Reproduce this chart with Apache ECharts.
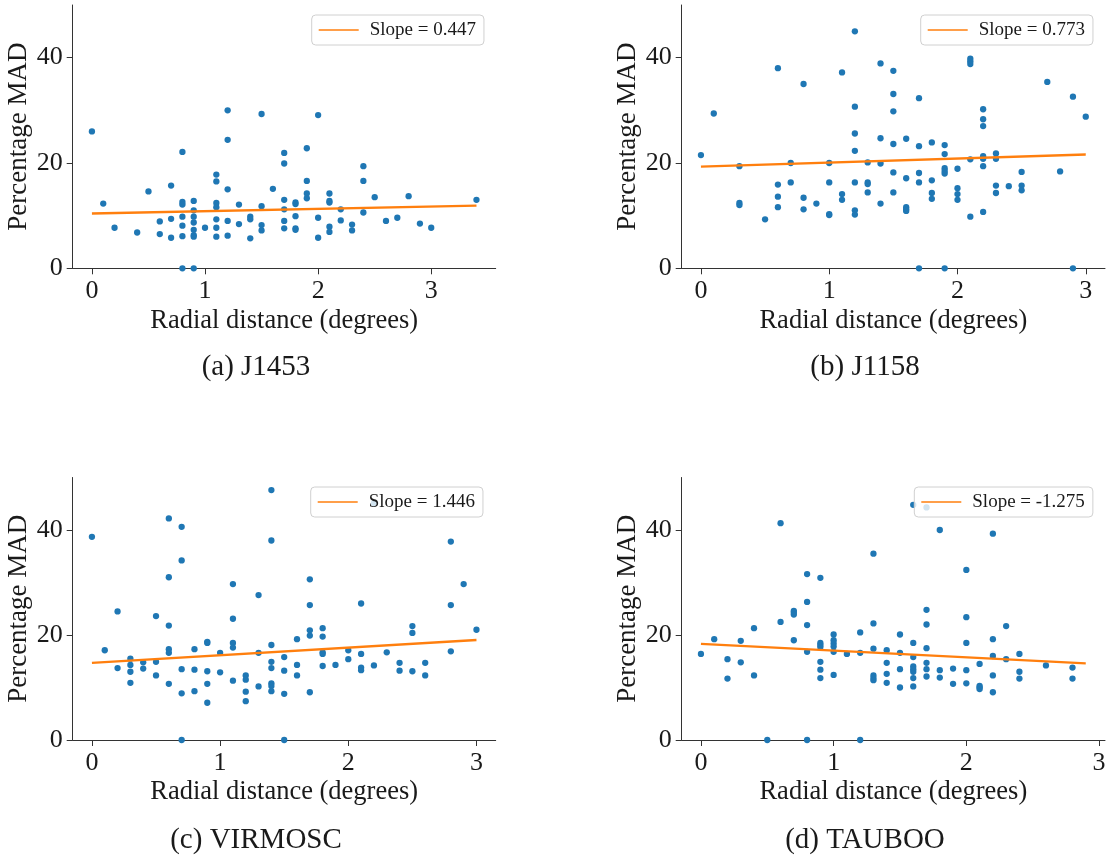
<!DOCTYPE html>
<html>
<head>
<meta charset="utf-8">
<title>Percentage MAD vs radial distance</title>
<script src="https://cdn.jsdelivr.net/npm/echarts@6.0.0/dist/echarts.min.js"></script>
<style>
  html, body { margin: 0; padding: 0; background: #ffffff; }
  #chart { width: 1112px; height: 861px; }
</style>
</head>
<body>
<div id="chart"></div>
<script>
// data, [radial distance, percentage MAD]
var pointsJ1453 = [
  [0, 26.0], [0.1, 12.3], [0.2, 7.7], [0.4, 6.8], [0.5, 14.6], [0.6, 8.9], [0.6, 6.5],
  [0.7, 15.7], [0.7, 9.4], [0.7, 5.8],
  [0.8, 22.1], [0.8, 12.6], [0.8, 12.1], [0.8, 9.8], [0.8, 8.1], [0.8, 6.1], [0.8, 0],
  [0.9, 12.8], [0.9, 11.0], [0.9, 9.8], [0.9, 8.7], [0.9, 7.3], [0.9, 6.3], [0.9, 6.0], [0.9, 0],
  [1.0, 7.7],
  [1.1, 17.8], [1.1, 16.5], [1.1, 12.4], [1.1, 11.6], [1.1, 9.3], [1.1, 7.7], [1.1, 6.0],
  [1.2, 30.0], [1.2, 24.4], [1.2, 15.0], [1.2, 9.0], [1.2, 6.2],
  [1.3, 12.1], [1.3, 8.4],
  [1.4, 9.8], [1.4, 9.3], [1.4, 5.7],
  [1.5, 29.3], [1.5, 11.8], [1.5, 8.2], [1.5, 7.2],
  [1.6, 15.1],
  [1.7, 21.9], [1.7, 19.9], [1.7, 13.0], [1.7, 11.2], [1.7, 9.0], [1.7, 7.6],
  [1.8, 12.5], [1.8, 12.2], [1.8, 9.9], [1.8, 7.6], [1.8, 7.3],
  [1.9, 22.8], [1.9, 16.6], [1.9, 14.2], [1.9, 13.3],
  [2.0, 29.1], [2.0, 9.6], [2.0, 5.8],
  [2.1, 14.2], [2.1, 12.8], [2.1, 12.5], [2.1, 7.9], [2.1, 6.9],
  [2.2, 11.2], [2.2, 9.1],
  [2.3, 8.3], [2.3, 7.2],
  [2.4, 19.4], [2.4, 16.6], [2.4, 10.6],
  [2.5, 13.5], [2.6, 9.0], [2.7, 9.6], [2.8, 13.7], [2.9, 8.5], [3.0, 7.7], [3.4, 13.0]
];
var pointsJ1158 = [
  [0, 21.5], [0.1, 29.4], [0.3, 19.4], [0.3, 12.4], [0.3, 12.0], [0.5, 9.3],
  [0.6, 38.0], [0.6, 15.9], [0.6, 13.6], [0.6, 11.6],
  [0.7, 20.0], [0.7, 16.3],
  [0.8, 35.0], [0.8, 13.4], [0.8, 11.2],
  [0.9, 12.3],
  [1.0, 20.0], [1.0, 16.3], [1.0, 10.3], [1.0, 10.1],
  [1.1, 37.2], [1.1, 14.1], [1.1, 13.0],
  [1.2, 45.0], [1.2, 30.7], [1.2, 25.6], [1.2, 22.3], [1.2, 16.3], [1.2, 11.0], [1.2, 10.2],
  [1.3, 20.1], [1.3, 16.3], [1.3, 16.0], [1.3, 14.4],
  [1.4, 38.9], [1.4, 24.7], [1.4, 19.9], [1.4, 12.3],
  [1.5, 37.5], [1.5, 33.1], [1.5, 29.8], [1.5, 23.6], [1.5, 18.2], [1.5, 14.4],
  [1.6, 24.6], [1.6, 17.1], [1.6, 11.6], [1.6, 11.2], [1.6, 10.9],
  [1.7, 32.3], [1.7, 23.2], [1.7, 18.1], [1.7, 16.3], [1.7, 0],
  [1.8, 23.9], [1.8, 16.7], [1.8, 14.3], [1.8, 13.2],
  [1.9, 23.4], [1.9, 21.7], [1.9, 19.0], [1.9, 18.5], [1.9, 18.0], [1.9, 0],
  [2.0, 18.9], [2.0, 15.2], [2.0, 14.1], [2.0, 13.0],
  [2.1, 39.8], [2.1, 39.3], [2.1, 38.8], [2.1, 20.7], [2.1, 9.8],
  [2.2, 30.2], [2.2, 28.3], [2.2, 27.0], [2.2, 21.3], [2.2, 20.8], [2.2, 19.4], [2.2, 10.7],
  [2.3, 21.8], [2.3, 20.8], [2.3, 15.7], [2.3, 14.3],
  [2.4, 15.6],
  [2.5, 18.3], [2.5, 15.7], [2.5, 14.8],
  [2.7, 35.4], [2.8, 18.4], [2.9, 32.6], [2.9, 0], [3.0, 28.8]
];
var pointsVIRMOSC = [
  [0, 38.7], [0.1, 17.1], [0.2, 24.5], [0.2, 13.7],
  [0.3, 15.5], [0.3, 14.3], [0.3, 13.0], [0.3, 10.9],
  [0.4, 14.8], [0.4, 13.6],
  [0.5, 23.6], [0.5, 14.9], [0.5, 12.3],
  [0.6, 42.2], [0.6, 31.0], [0.6, 21.8], [0.6, 17.3], [0.6, 16.6], [0.6, 10.7],
  [0.7, 40.6], [0.7, 34.2], [0.7, 13.5], [0.7, 8.9], [0.7, 0],
  [0.8, 17.3], [0.8, 13.4], [0.8, 9.3],
  [0.9, 18.7], [0.9, 18.5], [0.9, 13.1], [0.9, 10.7], [0.9, 7.1],
  [1.0, 16.6], [1.0, 12.9],
  [1.1, 29.7], [1.1, 23.1], [1.1, 18.5], [1.1, 17.6], [1.1, 11.3],
  [1.2, 12.3], [1.2, 11.5], [1.2, 9.2], [1.2, 7.4],
  [1.3, 27.6], [1.3, 16.6], [1.3, 10.2],
  [1.4, 47.6], [1.4, 38.0], [1.4, 18.1], [1.4, 14.9], [1.4, 13.7], [1.4, 10.8], [1.4, 10.3], [1.4, 9.3],
  [1.5, 15.8], [1.5, 13.2], [1.5, 8.8], [1.5, 0],
  [1.6, 19.2], [1.6, 14.3], [1.6, 12.3],
  [1.7, 30.6], [1.7, 25.7], [1.7, 20.9], [1.7, 19.9], [1.7, 9.1],
  [1.8, 21.3], [1.8, 19.7], [1.8, 16.7], [1.8, 16.4], [1.8, 14.1],
  [1.9, 14.3],
  [2.0, 17.1], [2.0, 15.4],
  [2.1, 26.0], [2.1, 16.4], [2.1, 13.8], [2.1, 13.3],
  [2.2, 45.1], [2.2, 14.2],
  [2.3, 16.7],
  [2.4, 14.7], [2.4, 13.2],
  [2.5, 21.7], [2.5, 20.4], [2.5, 13.1],
  [2.6, 14.7], [2.6, 12.3],
  [2.8, 37.8], [2.8, 25.7], [2.8, 16.9],
  [2.9, 29.7], [3.0, 21.0]
];
var pointsTAUBOO = [
  [0, 16.4], [0.1, 19.2], [0.2, 15.4], [0.2, 11.7], [0.3, 18.9], [0.3, 14.8],
  [0.4, 21.3], [0.4, 12.3], [0.5, 0],
  [0.6, 41.3], [0.6, 22.5],
  [0.7, 24.6], [0.7, 24.3], [0.7, 23.9], [0.7, 19.0],
  [0.8, 31.6], [0.8, 26.3], [0.8, 21.9], [0.8, 16.8], [0.8, 0],
  [0.9, 30.9], [0.9, 18.5], [0.9, 18.1], [0.9, 17.7], [0.9, 14.9], [0.9, 13.4], [0.9, 11.8],
  [1.0, 20.1], [1.0, 19.0], [1.0, 18.4], [1.0, 17.8], [1.0, 16.8], [1.0, 12.4],
  [1.1, 16.4],
  [1.2, 20.5], [1.2, 16.6], [1.2, 0],
  [1.3, 35.5], [1.3, 22.2], [1.3, 17.4], [1.3, 12.3], [1.3, 11.8], [1.3, 11.4],
  [1.4, 17.1], [1.4, 14.7], [1.4, 12.6], [1.4, 10.9],
  [1.5, 20.1], [1.5, 16.6], [1.5, 13.5], [1.5, 10.0],
  [1.6, 44.8], [1.6, 18.5], [1.6, 15.8], [1.6, 14.0], [1.6, 13.5], [1.6, 13.0], [1.6, 11.8], [1.6, 10.2],
  [1.7, 44.3], [1.7, 24.8], [1.7, 22.0], [1.7, 17.5], [1.7, 14.7], [1.7, 13.5], [1.7, 12.1],
  [1.8, 40.0], [1.8, 13.3], [1.8, 11.9],
  [1.9, 13.6], [1.9, 10.7],
  [2.0, 32.4], [2.0, 23.4], [2.0, 18.5], [2.0, 13.3], [2.0, 10.8],
  [2.1, 14.5], [2.1, 10.3], [2.1, 10.0], [2.1, 9.7],
  [2.2, 39.3], [2.2, 19.2], [2.2, 16.0], [2.2, 12.3], [2.2, 9.1],
  [2.3, 21.7], [2.3, 15.4],
  [2.4, 16.4], [2.4, 13.0], [2.4, 11.7],
  [2.6, 14.2], [2.8, 13.8], [2.8, 11.7]
];

// fitted lines (ends) and their legend labels
var fitJ1453 = [[0, 10.4], [3.4, 11.9]];
var fitJ1158 = [[0, 19.3], [3.0, 21.6]];
var fitVIRMOSC = [[0, 14.7], [3.0, 19.05]];
var fitTAUBOO = [[0, 18.3], [2.9, 14.6]];
var slopeLabels = ['Slope = 0.447', 'Slope = 0.773', 'Slope = 1.446', 'Slope = -1.275'];
var captions = ['(a) J1453', '(b) J1158', '(c) VIRMOSC', '(d) TAUBOO'];
var xTicks = [0, 1, 2, 3];
var yTicks = [0, 20, 40];

var FONT = 'Liberation Serif';
var BLUE = '#1f77b4';
var ORANGE = '#ff7f0e';

var panels = [
  { pts: pointsJ1453, fit: fitJ1453, grid: { left: 72.7, top: 5, width: 423, height: 263.3 }, xmin: -0.17, xmax: 3.57, legend: { left: 311.7, top: 15 }, cap: [256, 367] },
  { pts: pointsJ1158, fit: fitJ1158, grid: { left: 681.7, top: 5, width: 423.3, height: 263.3 }, xmin: -0.15, xmax: 3.15, legend: { left: 920.7, top: 15 }, cap: [865, 367] },
  { pts: pointsVIRMOSC, fit: fitVIRMOSC, grid: { left: 72.7, top: 477.5, width: 423, height: 262.5 }, xmin: -0.15, xmax: 3.15, legend: { left: 310.7, top: 487 }, cap: [256, 840] },
  { pts: pointsTAUBOO, fit: fitTAUBOO, grid: { left: 681.7, top: 477.5, width: 423.3, height: 262.5 }, xmin: -0.145, xmax: 3.045, legend: { left: 914.3, top: 487 }, cap: [865, 840] }
];

var grids = [], xAxes = [], yAxes = [], series = [], legends = [], graphics = [];

panels.forEach(function (p, i) {
  var g = p.grid;
  g.outerBoundsMode = 'none';
  g.containLabel = false;
  grids.push(g);

  xAxes.push({
    gridIndex: i,
    type: 'value',
    min: p.xmin,
    max: p.xmax,
    name: 'Radial distance (degrees)',
    nameLocation: 'middle',
    nameGap: 39,
    nameTextStyle: { fontFamily: FONT, fontSize: 26.5, color: '#1a1a1a' },
    axisLine: { show: true, onZero: false, lineStyle: { color: '#333', width: 1 } },
    axisTick: { show: true, customValues: xTicks, length: 6, lineStyle: { color: '#333', width: 1 } },
    axisLabel: { customValues: xTicks, fontFamily: FONT, fontSize: 26, color: '#1a1a1a', margin: 10 },
    splitLine: { show: false }
  });

  yAxes.push({
    gridIndex: i,
    type: 'value',
    min: 0,
    max: 50,
    name: 'Percentage MAD',
    nameLocation: 'middle',
    nameGap: 40,
    nameTextStyle: { fontFamily: FONT, fontSize: 27, color: '#1a1a1a' },
    axisLine: { show: true, onZero: false, lineStyle: { color: '#333', width: 1 } },
    axisTick: { show: true, customValues: yTicks, length: 6, lineStyle: { color: '#333', width: 1 } },
    axisLabel: { customValues: yTicks, fontFamily: FONT, fontSize: 26, color: '#1a1a1a', margin: 10 },
    splitLine: { show: false }
  });

  series.push({
    type: 'scatter',
    xAxisIndex: i,
    yAxisIndex: i,
    data: p.pts,
    symbolSize: 6.3,
    itemStyle: { color: BLUE, opacity: 1 },
    z: 2
  });
  series.push({
    type: 'line',
    name: slopeLabels[i],
    xAxisIndex: i,
    yAxisIndex: i,
    data: p.fit,
    symbol: 'none',
    lineStyle: { color: ORANGE, width: 2.4 },
    itemStyle: { color: ORANGE },
    z: 3
  });

  legends.push({
    data: [slopeLabels[i]],
    left: p.legend.left,
    top: p.legend.top,
    padding: [4, 8, 4, 7],
    icon: 'rect',
    itemWidth: 40,
    itemHeight: 1.6,
    backgroundColor: 'rgba(255,255,255,0.8)',
    borderColor: '#d0d0d0',
    borderWidth: 1,
    borderRadius: 4,
    itemStyle: { color: ORANGE },
    textStyle: { fontFamily: FONT, fontSize: 19, color: '#1a1a1a', padding: [0, 0, 0, 6], lineHeight: 22 },
    selectedMode: false,
    z: 10
  });

  graphics.push({
    type: 'text',
    x: p.cap[0],
    y: p.cap[1],
    style: {
      text: captions[i],
      fontFamily: FONT,
      fontSize: 29,
      fill: '#1a1a1a',
      align: 'center',
      verticalAlign: 'middle'
    }
  });
});

var chart = echarts.init(document.getElementById('chart'), null, { renderer: 'canvas' });
chart.setOption({
  animation: false,
  backgroundColor: '#ffffff',
  grid: grids,
  xAxis: xAxes,
  yAxis: yAxes,
  legend: legends,
  series: series,
  graphic: graphics
});
</script>
</body>
</html>
